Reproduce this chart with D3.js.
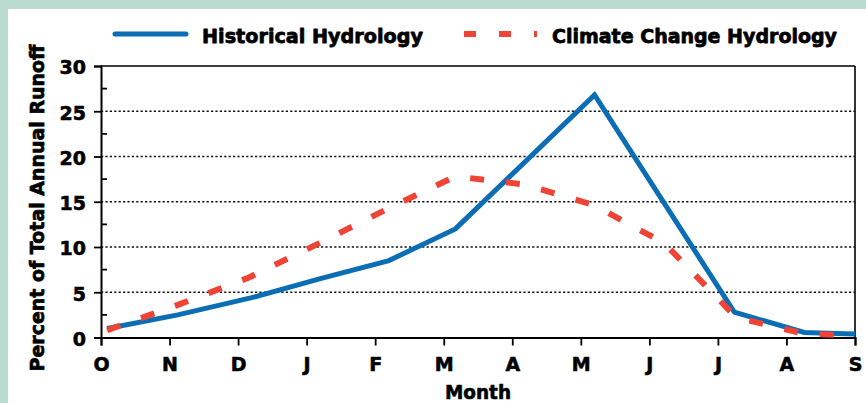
<!DOCTYPE html>
<html>
<head>
<meta charset="utf-8">
<script src="https://cdn.jsdelivr.net/npm/d3@7/dist/d3.min.js"></script>
<style>
  html, body { margin: 0; padding: 0; background: #badcd0; }
  svg { display: block; }
</style>
</head>
<body>
<svg id="chart" width="866" height="403"></svg>
<script>
// ---- data ----
const months = ["O","N","D","J","F","M","A","M","J","J","A","S"];
const yTicks = [0, 5, 10, 15, 20, 25, 30];
const yMinorTicks = [2.5, 7.5, 12.5, 17.5, 22.5, 27.5];
const gridTicks = [5, 10, 15, 20, 25];

// positions along the month axis (0 = O ... 11 = S) and values (%)
const histPos    = [0.09, 1.12, 2.2, 3.2, 4.2, 5.17, 7.2, 9.24, 10.26, 11.0];
const histValues = [1.0, 2.5, 4.4, 6.5, 8.5, 12.0, 26.8, 2.8, 0.55, 0.4];

const climPos    = [0.09, 1.12, 2.15, 3.18, 4.2, 5.17, 6.18, 7.2, 8.22, 9.27, 10.27, 11.0];
const climValues = [0.8, 3.6, 6.6, 10.4, 14.3, 17.8, 16.9, 14.6, 10.4, 2.2, 0.4, 0.25];

const legendLabels = ["Historical Hydrology", "Climate Change Hydrology"];
const xTitle = "Month";
const yTitle = "Percent of Total Annual Runoff";

// ---- layout ----
const svg = d3.select("#chart");
const W = 866, H = 403;
const plot = { left: 101, right: 855, top: 66, bottom: 337.5 };
const blue = "#0b6db4", red = "#ee4335";
const font = "'DejaVu Sans', sans-serif";

function heavy(sel, size, sw) {
  return sel.attr("font-family", font).attr("font-weight", "bold").attr("font-size", size)
    .attr("fill", "#000").attr("stroke", "#000").attr("stroke-width", sw)
    .attr("stroke-linejoin", "round");
}

svg.append("rect").attr("x", 0).attr("y", 0).attr("width", W).attr("height", H).attr("fill", "#badcd0");
svg.append("rect").attr("x", 8).attr("y", 9).attr("width", W - 8).attr("height", H - 9).attr("fill", "#ffffff");

const x = d3.scaleLinear().domain([0, 11]).range([plot.left, plot.right]);
const y = d3.scaleLinear().domain([0, 30]).range([plot.bottom, plot.top]);

// gridlines
svg.append("g").selectAll("line").data(gridTicks).join("line")
  .attr("x1", plot.left).attr("x2", plot.right)
  .attr("y1", d => y(d)).attr("y2", d => y(d))
  .attr("stroke", "#111").attr("stroke-width", 1.6).attr("stroke-dasharray", "2.2,2.2");

// frame top & right
svg.append("line").attr("x1", plot.left).attr("x2", plot.right).attr("y1", y(30)).attr("y2", y(30))
  .attr("stroke", "#000").attr("stroke-width", 1.6);
svg.append("line").attr("x1", plot.right).attr("x2", plot.right).attr("y1", y(30)).attr("y2", plot.bottom)
  .attr("stroke", "#000").attr("stroke-width", 1.6);

// y axis
const yAxis = svg.append("g").attr("transform", `translate(${plot.left},0)`)
  .call(d3.axisLeft(y).tickValues(yTicks).tickSize(7).tickPadding(8).tickFormat(d3.format("d")));
yAxis.select(".domain").attr("stroke", "#000").attr("stroke-width", 2);
yAxis.selectAll(".tick line").attr("stroke", "#000").attr("stroke-width", 1.8);
heavy(yAxis.selectAll(".tick text"), 19, 0.6).attr("dy", "0.42em");

// minor y ticks (inside)
svg.append("g").selectAll("line").data(yMinorTicks).join("line")
  .attr("x1", plot.left).attr("x2", plot.left + 6)
  .attr("y1", d => y(d)).attr("y2", d => y(d))
  .attr("stroke", "#000").attr("stroke-width", 1.8);

// x axis
const xAxis = svg.append("g").attr("transform", `translate(0,${plot.bottom})`)
  .call(d3.axisBottom(x).tickValues(d3.range(months.length)).tickSize(8).tickPadding(12)
    .tickFormat(i => months[i]));
xAxis.select(".domain").attr("stroke", "#000").attr("stroke-width", 2);
xAxis.selectAll(".tick line").attr("stroke", "#000").attr("stroke-width", 1.8);
heavy(xAxis.selectAll(".tick text"), 19, 0.6);

// lines
const line = d3.line().x(d => x(d[0])).y(d => y(d[1]));
svg.append("path").datum(histPos.map((p, i) => [p, histValues[i]]))
  .attr("d", line).attr("fill", "none").attr("stroke", blue).attr("stroke-width", 5)
  .attr("stroke-linejoin", "miter");
svg.append("path").datum(climPos.map((p, i) => [p, climValues[i]]))
  .attr("d", line).attr("fill", "none").attr("stroke", red).attr("stroke-width", 6)
  .attr("stroke-dasharray", "14,22");

// axis titles
heavy(svg.append("text"), 19, 0.6).attr("x", (plot.left + plot.right) / 2).attr("y", 399)
  .attr("text-anchor", "middle")
  .attr("textLength", 66).attr("lengthAdjust", "spacingAndGlyphs")
  .text(xTitle);
heavy(svg.append("text"), 20, 0.7).attr("transform", "translate(44,208) rotate(-90)")
  .attr("text-anchor", "middle")
  .attr("textLength", 327).attr("lengthAdjust", "spacingAndGlyphs")
  .text(yTitle);

// legend
const lg = svg.append("g");
lg.append("line").attr("x1", 115).attr("x2", 186).attr("y1", 34).attr("y2", 34)
  .attr("stroke", blue).attr("stroke-width", 5).attr("stroke-linecap", "round");
heavy(lg.append("text"), 20, 0.8).attr("x", 202).attr("y", 43)
  .attr("textLength", 221).attr("lengthAdjust", "spacingAndGlyphs")
  .text(legendLabels[0]);
lg.append("line").attr("x1", 464).attr("x2", 537).attr("y1", 34).attr("y2", 34)
  .attr("stroke", red).attr("stroke-width", 6).attr("stroke-dasharray", "12,23");
heavy(lg.append("text"), 20, 0.8).attr("x", 552).attr("y", 43)
  .attr("textLength", 285).attr("lengthAdjust", "spacingAndGlyphs")
  .text(legendLabels[1]);
</script>
</body>
</html>
